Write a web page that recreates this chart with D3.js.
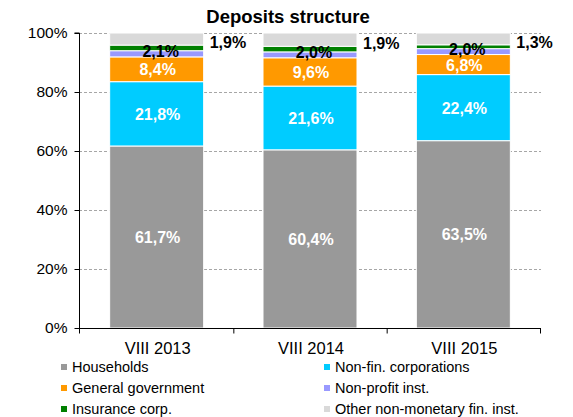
<!DOCTYPE html>
<html><head><meta charset="utf-8">
<script src="https://cdn.jsdelivr.net/npm/d3@7"></script>
<style>body{margin:0;background:#fff;font-family:"Liberation Sans",Arial,sans-serif;}</style>
</head><body>
<script>
const categories = ["VIII 2013", "VIII 2014", "VIII 2015"];
const seriesNames = ["Households", "Non-fin. corporations", "General government", "Non-profit inst.", "Insurance corp.", "Other non-monetary fin. inst."];
const households = [61.7, 60.4, 63.5];
const nonFinCorp = [21.8, 21.6, 22.4];
const generalGov = [8.4, 9.6, 6.8];
const nonProfit = [2.1, 2.0, 2.0];
const insurance = [1.9, 1.9, 1.3];
const otherFin = [4.1, 4.5, 4.0];
const yTicks = [0, 20, 40, 60, 80, 100];
const colors = ["#999999", "#00ccff", "#ff9900", "#9999ff", "#008000", "#d9d9d9"];

const W = 573, H = 417;
const margin = {left: 79, right: 32, top: 33, bottom: 89};
const FF = "Liberation Sans, Arial, sans-serif";
const svg = d3.select("body").append("svg").attr("width", W).attr("height", H)
  .attr("font-family", FF);

const x = d3.scaleBand().domain(categories).range([margin.left, W - margin.right]).paddingInner(0.387).paddingOuter(0.2);
const y = d3.scaleLinear().domain([0, 100]).range([H - margin.bottom, margin.top]);

const series = [households, nonFinCorp, generalGov, nonProfit, insurance, otherFin];
const rows = categories.map((c, i) => {
  const r = {cat: c};
  seriesNames.forEach((s, k) => r[s] = series[k][i]);
  return r;
});
const stacked = d3.stack().keys(seriesNames)(rows);

// gridlines
svg.append("g").selectAll("line").data(yTicks.filter(t => t > 0)).join("line")
  .attr("x1", margin.left).attr("x2", W - margin.right)
  .attr("y1", d => y(d) + 0.5).attr("y2", d => y(d) + 0.5)
  .attr("stroke", "#a6a6a6").attr("stroke-dasharray", "3,2").attr("stroke-width", 1);

// bars
stacked.forEach((s, k) => {
  svg.append("g").selectAll("rect").data(s).join("rect")
    .attr("x", d => x(d.data.cat))
    .attr("width", x.bandwidth())
    .attr("y", d => y(d[1]))
    .attr("height", d => y(d[0]) - y(d[1]))
    .attr("fill", colors[k])
    .attr("stroke", "#fff").attr("stroke-width", 1);
});

// axes
const yAxis = d3.axisLeft(y).tickValues(yTicks).tickFormat(d => d + "%").tickSize(5).tickPadding(7);
const gy = svg.append("g").attr("transform", `translate(${margin.left + 0.5},0)`).call(yAxis);
gy.select(".domain").attr("stroke", "#000").attr("d", `M-5,${y(100)}H0V${y(0)}`);
gy.selectAll(".tick line").attr("stroke", "#000");
gy.selectAll("text").attr("font-size", 15.5).attr("fill", "#000").attr("font-family", FF);

const gx = svg.append("g").attr("transform", `translate(0,${y(0) + 0.5})`);
gx.append("line").attr("x1", margin.left).attr("x2", W - margin.right).attr("y1", 0).attr("y2", 0).attr("stroke", "#000");
const step = x.step();
const boundaries = [margin.left, ...categories.map(c => x(c) + x.bandwidth() + step * 0.387 / 2)];
gx.selectAll("line.t").data(boundaries).join("line").attr("class", "t")
  .attr("x1", d => d + 0.5).attr("x2", d => d + 0.5).attr("y1", 0).attr("y2", 5).attr("stroke", "#000");
gx.selectAll("text").data(categories).join("text")
  .attr("x", d => x(d) + x.bandwidth() / 2 + 1).attr("y", 25)
  .attr("text-anchor", "middle").attr("font-size", 16.5).text(d => d);

// labels
const fmt = v => v.toFixed(1).replace(".", ",") + "%";
const labelG = svg.append("g").attr("font-weight", "bold").attr("font-size", 16).attr("text-anchor", "middle");
[0, 1, 2].forEach(k => {
  labelG.selectAll(null).data(stacked[k]).join("text")
    .attr("x", d => x(d.data.cat) + x.bandwidth() / 2 + 1)
    .attr("y", d => y((d[0] + d[1]) / 2) + 6)
    .attr("fill", "#fff").text((d, i) => fmt(series[k][i]));
});
labelG.selectAll(null).data(stacked[3]).join("text")
  .attr("x", d => x(d.data.cat) + x.bandwidth() / 2 + 4)
  .attr("y", d => y(d[1]) + 6)
  .attr("fill", "#000").text((d, i) => fmt(nonProfit[i]));
labelG.selectAll(null).data(stacked[4]).join("text")
  .attr("text-anchor", "start")
  .attr("x", d => x(d.data.cat) + x.bandwidth() + 6)
  .attr("y", d => y(d[1]) + 3)
  .attr("fill", "#000").text((d, i) => fmt(insurance[i]));

// title
svg.append("text").attr("x", 288).attr("y", 23).attr("text-anchor", "middle")
  .attr("font-weight", "bold").attr("font-size", 18.5).text("Deposits structure");

// legend
const leg = svg.append("g").attr("font-size", 14.5);
seriesNames.forEach((s, k) => {
  const col = k % 2, row = Math.floor(k / 2);
  const lx = col === 0 ? 61 : 324, ly = 367 + row * 21;
  leg.append("rect").attr("x", lx).attr("y", ly - 3).attr("width", 6).attr("height", 6).attr("fill", colors[k]);
  leg.append("text").attr("x", lx + 11).attr("y", ly + 5).text(s);
});
</script>
</body></html>
